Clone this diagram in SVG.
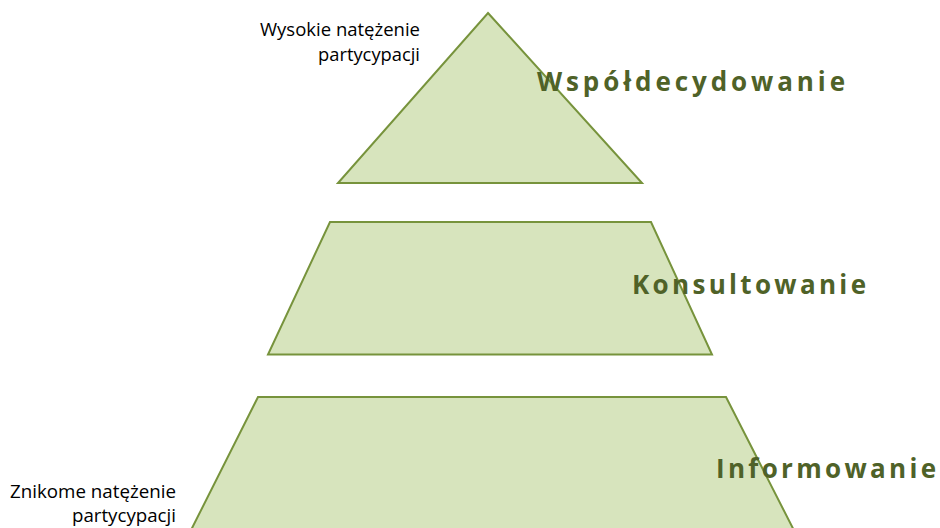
<svg xmlns="http://www.w3.org/2000/svg" width="940" height="528" viewBox="0 0 940 528">
<style>
.shape{fill:#D7E4BD;stroke:#77933C;stroke-width:2;stroke-linejoin:miter}
.lvl{font-family:"Open Sans","Liberation Sans",sans-serif;font-weight:bold;font-size:26px;fill:#4F6228}
.side{font-family:"Open Sans","Liberation Sans",sans-serif;font-size:18px;fill:#000;text-anchor:end}
</style>
<rect width="940" height="528" fill="#fff"/>
<g id="top">
<polygon class="shape" points="488,13 642,183 338,183"/>
<text class="lvl" x="537" y="91" textLength="308" lengthAdjust="spacing">Współdecydowanie</text>
</g>
<g id="middle">
<polygon class="shape" points="330,222 651,222 712,354.5 268,354.5"/>
<text class="lvl" x="632" y="294" textLength="234" lengthAdjust="spacing">Konsultowanie</text>
</g>
<g id="bottom">
<polygon class="shape" points="258,397 726,397 804,550 181,550"/>
<text class="lvl" x="716" y="478" textLength="220" lengthAdjust="spacing">Informowanie</text>
</g>
<g id="labels">
<text class="side" x="420" y="36" textLength="160" lengthAdjust="spacingAndGlyphs">Wysokie natężenie</text>
<text class="side" x="420" y="61" textLength="102" lengthAdjust="spacingAndGlyphs">partycypacji</text>
<text class="side" x="176" y="498" textLength="166" lengthAdjust="spacingAndGlyphs">Znikome natężenie</text>
<text class="side" x="176" y="522" textLength="104" lengthAdjust="spacingAndGlyphs">partycypacji</text>
</g>
<g id="connectors"></g>
</svg>
